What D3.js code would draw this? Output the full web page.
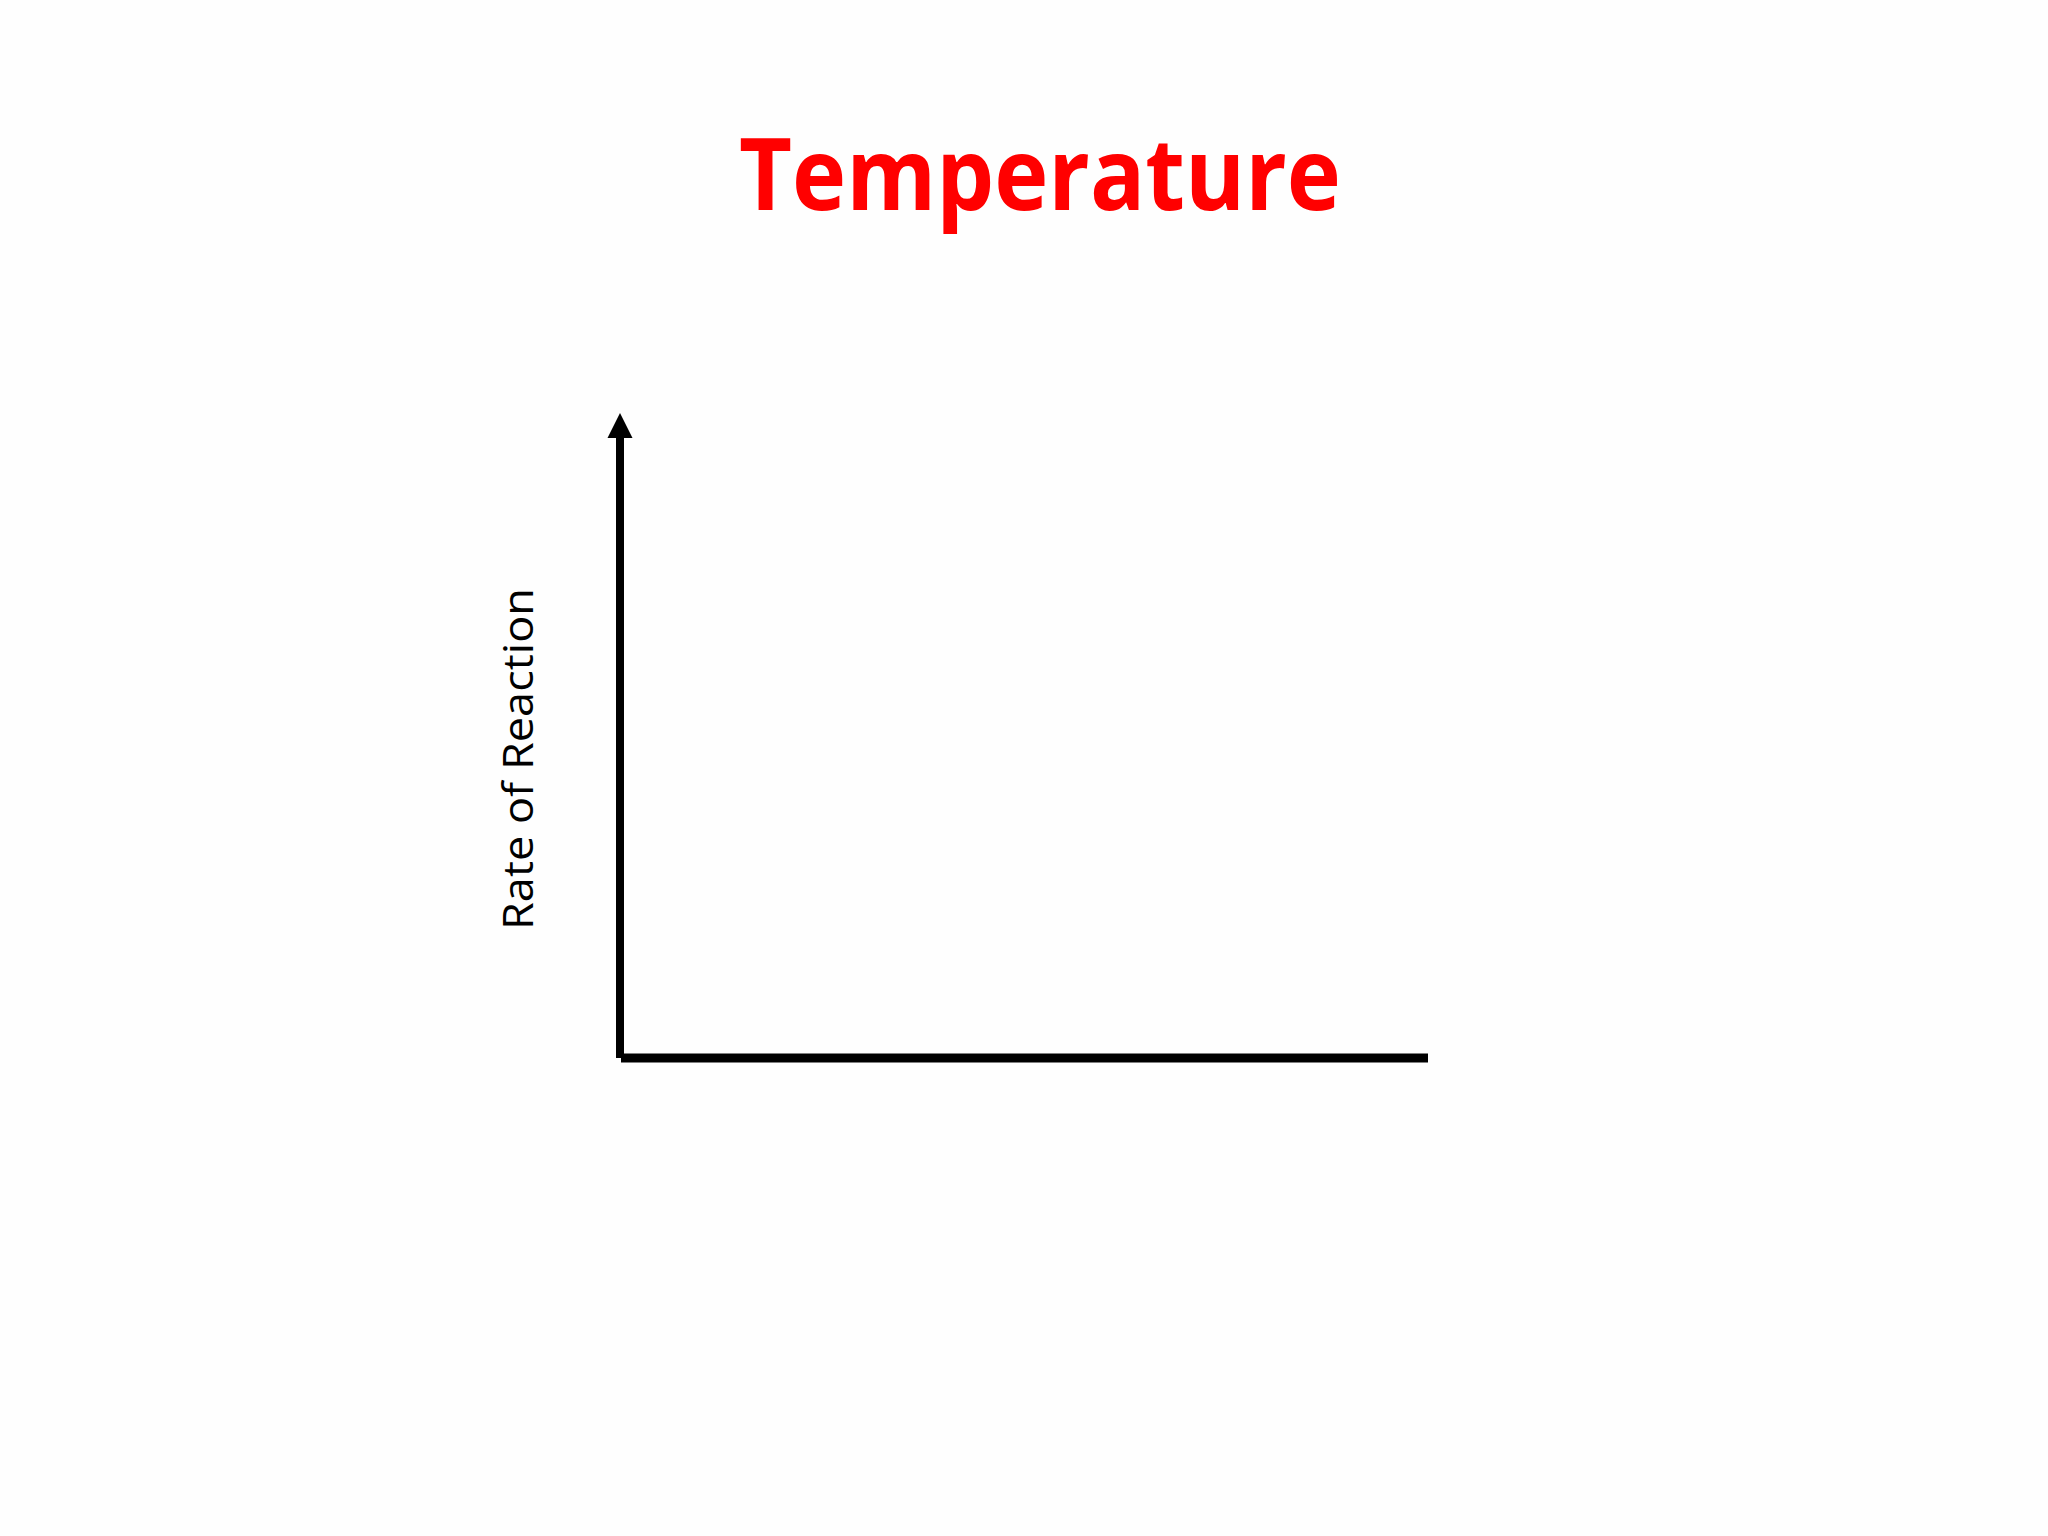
<!DOCTYPE html>
<html>
<head>
<meta charset="utf-8">
<script src="https://cdn.jsdelivr.net/npm/d3@7"></script>
<style>
  html, body { margin: 0; padding: 0; background: #fff; }
</style>
</head>
<body>
<div id="container"></div>
<script>
/* CONSTANTS AND GLOBALS */
const width = 2048,
  height = 1536,
  margin = { top: 413, bottom: 1536 - 1058, left: 620, right: 2048 - 1428 };

// chart text and (empty) axis domains
const chartTitle = ["Temperature"];
const yLabel = ["Rate of Reaction"];
const xDomain = [0, 1];
const yDomain = [0, 1];

// SCALES
const xScale = d3.scaleLinear()
  .domain(xDomain)
  .range([margin.left, width - margin.right]);

const yScale = d3.scaleLinear()
  .domain(yDomain)
  .range([height - margin.bottom, margin.top]);

// CREATE SVG ELEMENT
const svg = d3.select("#container")
  .append("svg")
  .attr("width", width)
  .attr("height", height)
  .style("background", "#fefefe");

// TITLE
svg.selectAll(".title")
  .data(chartTitle)
  .join("text")
  .attr("class", "title")
  .attr("x", 1040)
  .attr("y", 210)
  .attr("text-anchor", "middle")
  .attr("fill", "#ff0000")
  .attr("font-family", "'Open Sans', sans-serif")
  .attr("font-weight", 700)
  .attr("font-size", 100)
  .attr("textLength", 602)
  .attr("lengthAdjust", "spacingAndGlyphs")
  .text(d => d);

// AXES
const arrowLen = 25;
const stroke = 8;

// y axis line (stops at arrow head base)
svg.append("line")
  .attr("x1", xScale(xDomain[0]))
  .attr("x2", xScale(xDomain[0]))
  .attr("y1", yScale(yDomain[0]))
  .attr("y2", yScale(yDomain[1]) + arrowLen - 2)
  .attr("stroke", "#000")
  .attr("stroke-width", stroke);

// arrow head
const ax = xScale(xDomain[0]), ay = yScale(yDomain[1]);
svg.append("path")
  .attr("d", d3.line()([[ax, ay], [ax + 12.5, ay + arrowLen], [ax - 12.5, ay + arrowLen]]) + "Z")
  .attr("fill", "#000");

// x axis line
svg.append("line")
  .attr("x1", xScale(xDomain[0]) + 1)
  .attr("x2", xScale(xDomain[1]))
  .attr("y1", yScale(yDomain[0]))
  .attr("y2", yScale(yDomain[0]))
  .attr("stroke", "#000")
  .attr("stroke-width", stroke + 1);

// Y LABEL
svg.selectAll(".ylabel")
  .data(yLabel)
  .join("text")
  .attr("class", "ylabel")
  .attr("transform", "translate(533," + 759 + ") rotate(-90)")
  .attr("text-anchor", "middle")
  .attr("fill", "#000")
  .attr("font-family", "'Open Sans', sans-serif")
  .attr("font-size", 42)
  .attr("textLength", 342)
  .attr("lengthAdjust", "spacingAndGlyphs")
  .text(d => d);
</script>
</body>
</html>
